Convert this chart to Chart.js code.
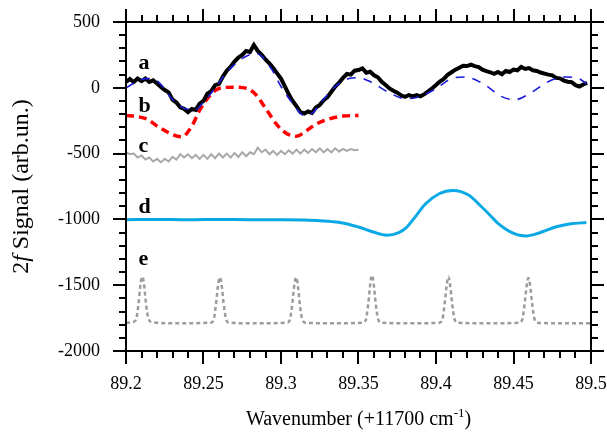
<!DOCTYPE html>
<html>
<head>
<meta charset="utf-8">
<script src="https://cdn.jsdelivr.net/npm/chart.js@4/dist/chart.umd.min.js"></script>
<style>
html,body{margin:0;padding:0;background:#fff;}
canvas{display:block;}
</style>
</head>
<body>
<canvas id="c" width="607" height="437"></canvas>
<script>
// ---------------- DATA ----------------
const xTickLabels = ['89.2','89.25','89.3','89.35','89.4','89.45','89.5'];
const yTickLabels = ['-2000','-1500','-1000','-500','0','500'];
const curveLetters = ['a','b','c','d','e'];

// (a) measured 2f signal (black)
const aX = [
 89.2000,89.2025,89.2050,89.2075,89.2100,89.2125,89.2150,89.2175,89.2200,89.2225,
 89.2250,89.2275,89.2300,89.2325,89.2350,89.2375,89.2400,89.2425,89.2450,89.2475,
 89.2500,89.2525,89.2550,89.2575,89.2600,89.2625,89.2650,89.2675,89.2700,89.2725,
 89.2750,89.2775,89.2800,89.2825,89.2850,89.2875,89.2900,89.2925,89.2950,89.2975,
 89.3000,89.3025,89.3050,89.3075,89.3100,89.3125,89.3150,89.3175,89.3200,89.3225,
 89.3250,89.3275,89.3300,89.3325,89.3350,89.3375,89.3400,89.3425,89.3450,89.3475,
 89.3500,89.3525,89.3550,89.3575,89.3600,89.3625,89.3650,89.3675,89.3700,89.3725,
 89.3750,89.3775,89.3800,89.3825,89.3850,89.3875,89.3900,89.3925,89.3950,89.3975,
 89.4000,89.4025,89.4050,89.4075,89.4100,89.4125,89.4150,89.4175,89.4200,89.4225,
 89.4250,89.4275,89.4300,89.4325,89.4350,89.4375,89.4400,89.4425,89.4450,89.4475,
 89.4500,89.4525,89.4550,89.4575,89.4600,89.4625,89.4650,89.4675,89.4700,89.4725,
 89.4750,89.4775,89.4800,89.4825,89.4850,89.4875,89.4900,89.4925,89.4950,89.4975
];
const aY = [
 44,66,44,70,51,70,44,57,32,6,
 -17,-35,-90,-112,-148,-160,-185,-160,-168,-120,
 -100,-45,-25,20,30,85,130,160,200,230,
 250,280,272,325,280,250,215,185,150,110,
 70,10,-50,-100,-140,-185,-195,-180,-190,-150,
 -130,-95,-70,-30,10,40,75,105,100,130,
 135,148,115,122,95,80,45,22,-5,-22,
 -37,-57,-68,-55,-66,-55,-65,-48,-27,-4,
 21,48,68,98,118,138,152,168,165,176,
 165,158,138,127,118,106,120,103,128,120,
 138,133,158,143,150,133,128,116,108,100,
 95,75,72,55,46,42,20,10,25,37
];

// fit of (a) (blue dashed)
const fitX = [89.200,89.206,89.213,89.219,89.223,89.230,89.239,89.245,89.250,89.255,
 89.266,89.276,89.284,89.294,89.300,89.307,89.315,89.320,89.326,89.334,
 89.344,89.350,89.358,89.369,89.380,89.389,89.400,89.410,89.419,89.432,
 89.442,89.451,89.462,89.472,89.483,89.492,89.497];
const fitY = [0,40,70,60,20,-90,-160,-165,-110,-40,
 130,230,260,140,10,-110,-210,-195,-110,0,
 70,77,44,-32,-82,-70,-6,70,82,19,
 -65,-90,-32,44,82,70,32];

// (b) red dashed
const bX = [89.200,89.207,89.214,89.220,89.230,89.236,89.242,89.248,89.254,89.260,
 89.270,89.278,89.284,89.290,89.298,89.304,89.310,89.316,89.322,89.330,89.340,89.350];
const bY = [-210,-218,-240,-290,-355,-372,-300,-160,-60,-5,
 5,-5,-55,-155,-290,-350,-368,-330,-280,-240,-215,-210];

// (c) grey noisy
const cY = [
 -490,-505,-500,-530,-515,-545,-530,-560,-540,-565,
 -540,-560,-525,-545,-505,-530,-505,-535,-510,-540,
 -510,-540,-505,-535,-500,-530,-500,-530,-495,-525,
 -490,-520,-490,-505,-455,-490,-470,-505,-480,-510,
 -480,-505,-475,-500,-470,-500,-470,-495,-465,-490,
 -460,-490,-465,-490,-460,-485,-465,-480,-465,-475,
 -470
];
const cX = aX.slice(0, cY.length);

// (d) cyan
const dX = [89.200,89.220,89.240,89.260,89.280,89.300,89.315,89.325,89.337,89.350,
 89.360,89.368,89.376,89.381,89.386,89.393,89.402,89.411,89.421,89.429,
 89.435,89.440,89.449,89.458,89.466,89.477,89.487,89.497];
const dY = [-1002,-1000,-1003,-1000,-1002,-1002,-1005,-1010,-1022,-1058,
 -1098,-1120,-1100,-1060,-990,-885,-805,-780,-815,-900,
 -970,-1030,-1100,-1126,-1105,-1058,-1033,-1024];

// (e) grey dotted (etalon peaks)
const eX = [89.2000,89.2045,89.2065,89.2080,89.2095,89.2105,89.2115,89.2130,89.2145,89.2165,
 89.2350,89.2545,89.2565,89.2580,89.2595,89.2605,89.2615,89.2630,89.2645,89.2665,
 89.2850,89.3037,89.3057,89.3072,89.3087,89.3097,89.3107,89.3122,89.3137,89.3157,
 89.3350,89.3527,89.3547,89.3562,89.3577,89.3587,89.3597,89.3612,89.3627,89.3647,
 89.3850,89.4020,89.4040,89.4055,89.4070,89.4080,89.4090,89.4105,89.4120,89.4140,
 89.4350,89.4536,89.4556,89.4571,89.4586,89.4596,89.4606,89.4621,89.4636,89.4656,
 89.4800,89.5000];
const eY = [-1785,-1780,-1760,-1650,-1480,-1435,-1480,-1650,-1755,-1780,
 -1790,-1785,-1765,-1650,-1490,-1440,-1480,-1640,-1755,-1785,
 -1790,-1785,-1765,-1650,-1490,-1440,-1485,-1650,-1760,-1785,
 -1790,-1785,-1765,-1650,-1480,-1425,-1480,-1650,-1760,-1785,
 -1790,-1785,-1765,-1650,-1490,-1435,-1490,-1650,-1760,-1785,
 -1790,-1785,-1765,-1650,-1495,-1445,-1490,-1650,-1760,-1785,
 -1790,-1790];

// ---------------- CHART ----------------
const pts = (xs, ys) => xs.map((x, i) => ({x: x, y: ys[i]}));
const SERIF = '"Liberation Serif","Times New Roman",serif';

const letterAnchors = [ // data-space anchor for each curve letter
  {x: 89.2080, y: 143}, {x: 89.2080, y: -184}, {x: 89.2080, y: -488},
  {x: 89.2080, y: -952}, {x: 89.2080, y: -1347}
];

const decor = {
  id: 'decor',
  afterDraw(chart) {
    const ctx = chart.ctx, a = chart.chartArea, xs = chart.scales.x, ys = chart.scales.y;
    ctx.save();
    ctx.strokeStyle = '#000';
    ctx.lineWidth = 2;
    ctx.lineCap = 'butt';
    ctx.strokeRect(a.left, a.top, a.right - a.left, a.bottom - a.top);
    const MAJ = 13, MIN = 7;
    for (let i = 0; i <= 30; i++) {
      const v = xs.min + i * (xs.max - xs.min) / 30;
      const px = Math.round(xs.getPixelForValue(v));
      const len = (i % 5 === 0) ? MAJ : MIN;
      ctx.beginPath();
      ctx.moveTo(px, a.bottom); ctx.lineTo(px, a.bottom + len);
      ctx.moveTo(px, a.top); ctx.lineTo(px, a.top - len);
      ctx.stroke();
    }
    for (let i = 0; i <= 25; i++) {
      const v = ys.min + i * (ys.max - ys.min) / 25;
      const py = Math.round(ys.getPixelForValue(v));
      const len = (i % 5 === 0) ? MAJ : MIN;
      ctx.beginPath();
      ctx.moveTo(a.left, py); ctx.lineTo(a.left - len, py);
      ctx.moveTo(a.right, py); ctx.lineTo(a.right + len, py);
      ctx.stroke();
    }
    ctx.fillStyle = '#000';
    ctx.font = 'bold 22px ' + SERIF;
    ctx.textBaseline = 'alphabetic';
    ctx.textAlign = 'left';
    curveLetters.forEach((t, i) => {
      ctx.fillText(t, xs.getPixelForValue(letterAnchors[i].x), ys.getPixelForValue(letterAnchors[i].y));
    });
    const f1 = '24px ' + SERIF, f2 = 'italic 24px ' + SERIF;
    const parts = [['2', f1], ['f', f2], [' Signal (arb.un.)', f1]];
    let tot = 0;
    parts.forEach(p => { ctx.font = p[1]; tot += ctx.measureText(p[0]).width; });
    ctx.save();
    ctx.translate(28, (a.top + a.bottom) / 2);
    ctx.rotate(-Math.PI / 2);
    let xx = -tot / 2;
    parts.forEach(p => { ctx.font = p[1]; ctx.fillText(p[0], xx, 0); xx += ctx.measureText(p[0]).width; });
    ctx.restore();
    const g1 = '20px ' + SERIF, g2 = '13px ' + SERIF;
    const xp = [['Wavenumber (+11700 cm', g1, 0], ['-1', g2, -8], [')', g1, 0]];
    tot = 0;
    xp.forEach(p => { ctx.font = p[1]; tot += ctx.measureText(p[0]).width; });
    xx = (a.left + a.right) / 2 - tot / 2;
    xp.forEach(p => { ctx.font = p[1]; ctx.fillText(p[0], xx, 425 + p[2]); xx += ctx.measureText(p[0]).width; });
    ctx.restore();
  }
};

new Chart(document.getElementById('c'), {
  type: 'line',
  data: {
    datasets: [
      {data: pts(fitX, fitY), borderColor: '#1c1cd8', borderWidth: 1.6, borderDash: [9, 8], cubicInterpolationMode: 'monotone', order: 1},
      {data: pts(aX, aY), borderColor: '#000000', borderWidth: 4, tension: 0, order: 2},
      {data: pts(bX, bY), borderColor: '#ff0000', borderWidth: 3.5, borderDash: [8, 5], cubicInterpolationMode: 'monotone', order: 3},
      {data: pts(cX, cY), borderColor: '#a8a8a8', borderWidth: 2, tension: 0, order: 4},
      {data: pts(dX, dY), borderColor: '#0aa9e6', borderWidth: 3, cubicInterpolationMode: 'monotone', order: 5},
      {data: pts(eX, eY), borderColor: '#9c9c9c', borderWidth: 2.5, borderDash: [4, 3], cubicInterpolationMode: 'monotone', order: 6}
    ]
  },
  options: {
    responsive: false,
    animation: false,
    devicePixelRatio: 1,
    layout: {padding: {top: 22, right: 16, left: 0, bottom: 0}},
    plugins: {legend: {display: false}, tooltip: {enabled: false}},
    elements: {point: {radius: 0}, line: {fill: false}},
    scales: {
      x: {
        type: 'linear', min: 89.2, max: 89.5,
        grid: {display: false, drawTicks: false}, border: {display: false},
        ticks: {stepSize: 0.05, padding: 22, color: '#000', maxRotation: 0, autoSkip: false,
          font: {family: SERIF, size: 18},
          callback: (v, i) => xTickLabels[i]},
        afterFit: s => { s.height = 86; s.paddingLeft = 0; s.paddingRight = 0; }
      },
      y: {
        type: 'linear', min: -2000, max: 500,
        grid: {display: false, drawTicks: false}, border: {display: false},
        ticks: {stepSize: 500, padding: 26, color: '#000', autoSkip: false,
          font: {family: SERIF, size: 18},
          callback: (v, i) => yTickLabels[i]},
        afterFit: s => { s.width = 126; s.paddingTop = 0; s.paddingBottom = 0; }
      }
    }
  },
  plugins: [decor]
});
</script>
</body>
</html>
